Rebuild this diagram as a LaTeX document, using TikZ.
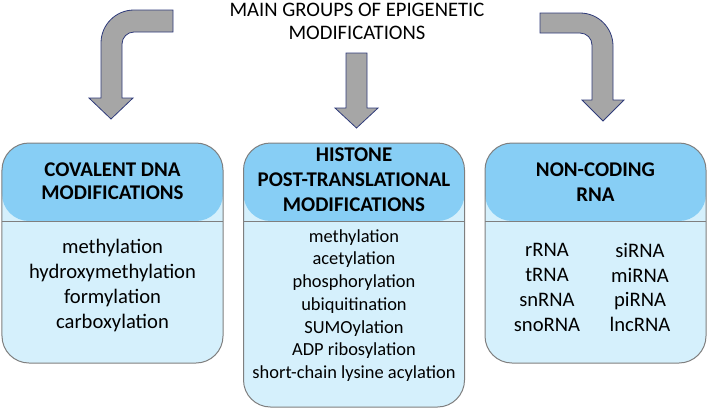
\documentclass[tikz,border=0pt]{standalone}
\usepackage{fontspec}
\setmainfont{Carlito}
\definecolor{hdr}{HTML}{87CEF5}
\definecolor{bdy}{HTML}{D5F0FC}
\definecolor{brd}{HTML}{7F7F7F}
\definecolor{agray}{HTML}{A6A6A6}
\definecolor{aline}{HTML}{2F3B7A}
\begin{document}
\begin{tikzpicture}[x=1bp,y=-1bp,
  box/.style={draw=brd, line width=1bp, fill=bdy, rounded corners=27bp,
    inner sep=0pt, outer sep=0pt, minimum width=221bp,
    path picture={\fill[hdr] (path picture bounding box.north west) rectangle ([yshift=-78bp]path picture bounding box.north east);}},
  divider/.style={draw=brd, line width=1bp},
  blockarrow/.style={fill=agray, draw=aline, line width=0.8bp, line join=miter},
  hdrtext/.style={font=\bfseries\fontsize{21}{24}\selectfont, align=center, inner sep=0pt},
  bodytext/.style={font=\fontsize{20.7}{25}\selectfont, align=center, inner sep=0pt},
  titletext/.style={font=\fontsize{20.7}{23}\selectfont, align=center, inner sep=0pt}]
\useasboundingbox (0,0) rectangle (708,412);

% boxes
\node[box, minimum height=220bp] (b1) at (112.5,253) {};
\node[box, minimum height=264bp] (b2) at (354,275) {};
\node[box, minimum height=220bp] (b3) at (595.5,253) {};
\foreach \b in {b1,b2,b3}
  \draw[divider] ([yshift=-78bp]\b.north west) -- ([yshift=-78bp]\b.north east);

% title
\node[titletext] (title) at (357,21.5) {MAIN GROUPS OF EPIGENETIC\\MODIFICATIONS};

% headers
\node[hdrtext, font=\bfseries\fontsize{21}{23}\selectfont] (h1) at (112.5,181.5) {COVALENT DNA\\MODIFICATIONS};
\node[hdrtext, font=\bfseries\fontsize{21}{25}\selectfont] (h2) at (354,180) {HISTONE\\POST-TRANSLATIONAL\\MODIFICATIONS};
\node[hdrtext, font=\bfseries\fontsize{21}{25}\selectfont] (h3) at (595.5,182.5) {NON-CODING\\RNA};

% bodies
\node[bodytext] (l1) at (112.5,285.5) {methylation\\hydroxymethylation\\formylation\\carboxylation};
\node[bodytext, font=\fontsize{18.5}{22.8}\selectfont] (l2) at (354,305.5) {methylation\\acetylation\\phosphorylation\\ubiquitination\\SUMOylation\\ADP ribosylation\\short-chain lysine acylation};
\node[bodytext] (l3a) at (547,287.5) {rRNA\\tRNA\\snRNA\\snoRNA};
\node[bodytext] (l3b) at (640,287.5) {siRNA\\miRNA\\piRNA\\lncRNA};

% arrows
\draw[blockarrow] (173,10) -- (134,10) arc[start angle=-90, end angle=-180, radius=33]
  -- (101,98) -- (89,98) -- (111,119) -- (133,98) -- (122,98) -- (122,44)
  arc[start angle=180, end angle=270, radius=12] -- (173,32) -- cycle;
\draw[blockarrow] (346,53) -- (367,53) -- (367,108) -- (378,108) -- (356.5,128)
  -- (335,108) -- (346,108) -- cycle;
\draw[blockarrow] (540,13) -- (580,13) arc[start angle=-90, end angle=0, radius=33]
  -- (613,100) -- (624,100) -- (603,121) -- (582,100) -- (592,100) -- (592,45)
  arc[start angle=0, end angle=-90, radius=12] -- (540,33) -- cycle;
\end{tikzpicture}
\end{document}
